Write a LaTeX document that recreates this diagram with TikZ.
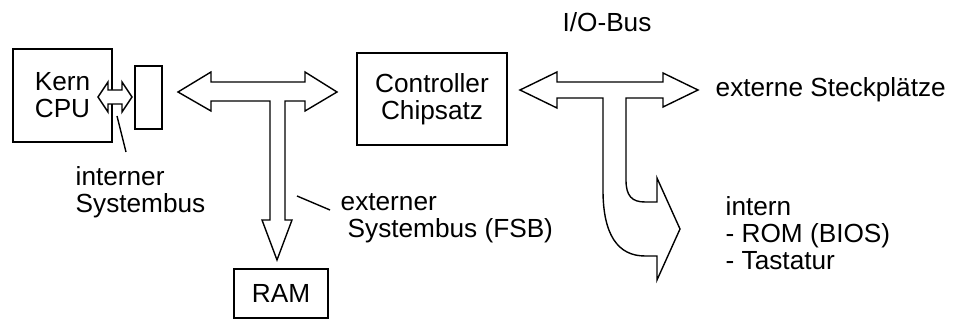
\documentclass[tikz,border=0pt]{standalone}
\usepackage{fontspec}
\setmainfont{Liberation Sans}

\begin{document}
\begin{tikzpicture}[x=0.5pt, y=-0.5pt, line width=0.7pt,
    box/.style={draw, inner sep=0pt, align=center},
    lbl/.style={inner sep=0pt, align=left, anchor=west},
    bus/.style={draw, fill=white, line join=miter}]
    \fontsize{13.1}{13.6}\selectfont
    \useasboundingbox (0,0) rectangle (960,320);

    % Draw the boxes
    \node[box, minimum width=49.5pt, minimum height=46.5pt] (cpu) at (62.5,95.5) {Kern\\CPU};
    \node[box, minimum width=13.5pt, minimum height=31.5pt] (port) at (148.5,97.5) {};
    \node[box, minimum width=75pt, minimum height=46pt] (ctrl) at (432,99) {Controller\\Chipsatz};
    \node[box, minimum width=47pt, minimum height=24.5pt] (ram) at (281,293.5) {RAM};

    % Draw the internal bus (small double arrow)
    \draw[bus] (98,97) -- (108,82) -- (108,90) -- (122,90) -- (122,82) -- (132,97)
        -- (122,112) -- (122,104) -- (108,104) -- (108,112) -- cycle;

    % Draw the external system bus (T shaped arrow)
    \draw[bus] (178,92) -- (211,72) -- (211,82) -- (305,82) -- (305,72) -- (337,92)
        -- (305,111) -- (305,101) -- (285,101) -- (285,220) -- (292,220) -- (277,260)
        -- (262,220) -- (270,220) -- (270,101) -- (211,101) -- (211,111) -- cycle;

    % Draw the I/O bus
    \draw[bus] (520,90) -- (557,72) -- (557,82) -- (663,82) -- (663,73) -- (698,90)
        -- (663,107) -- (663,98) -- (626,98) -- (626,180)
        .. controls (626,196) and (632,202) .. (645,202) -- (657,202) -- (657,178)
        -- (680,229) -- (657,280) -- (657,256) -- (645,256)
        .. controls (618,256) and (603,235) .. (603,190) -- (603,98) -- (557,98)
        -- (557,108) -- cycle;

    % Labels
    \node[lbl] (intlbl) at (75,192) {interner\\Systembus};
    \node[lbl] (extlbl) at (340,218.5) {externer\\\hspace*{3.5pt}Systembus (FSB)};
    \node (iolbl) at (607,22) {I/O-Bus};
    \node[lbl] (slots) at (715,90) {externe Steckplätze};
    \node[lbl] (intern) at (725,233) {intern\\- ROM (BIOS)\\- Tastatur};

    % Pointer lines
    \coordinate (p1) at (117,116);
    \coordinate (p2) at (126,152);
    \coordinate (p3) at (297,196);
    \coordinate (p4) at (330,210);
    \draw (p1) -- (p2);
    \draw (p3) -- (p4);
\end{tikzpicture}
\end{document}
